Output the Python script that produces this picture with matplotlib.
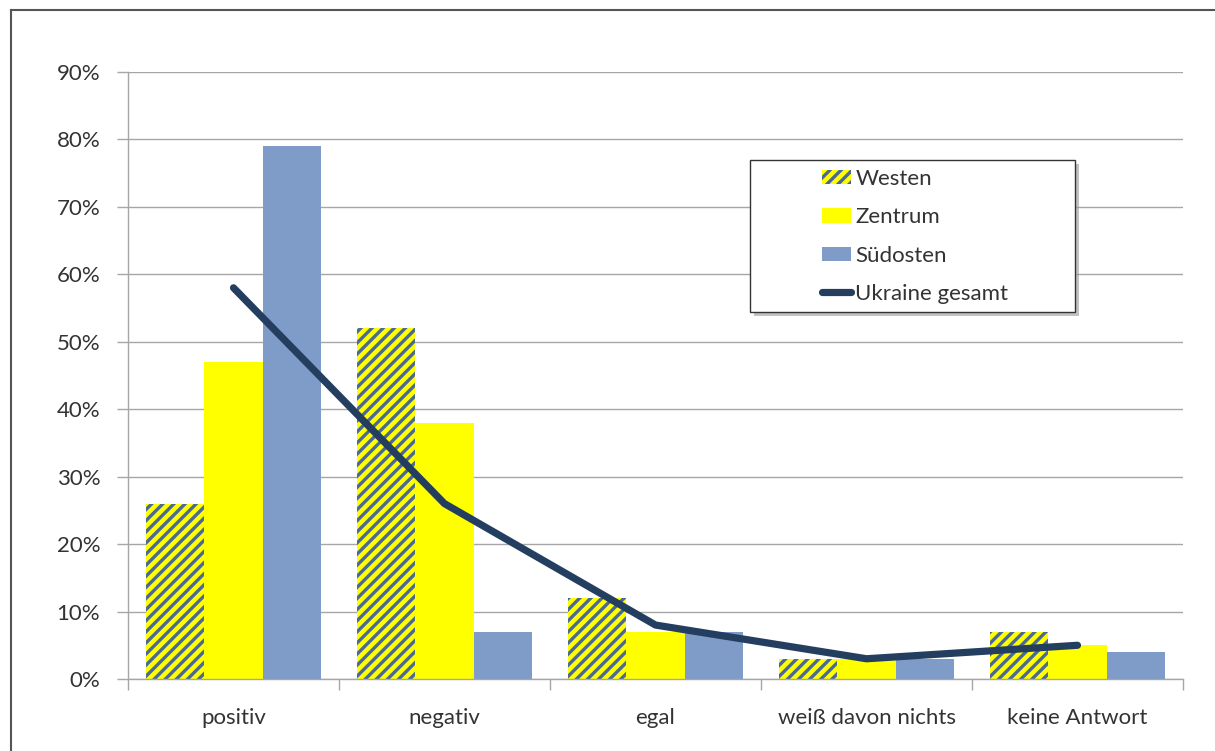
import matplotlib
matplotlib.use("Agg")
import matplotlib.pyplot as plt
import numpy as np
from matplotlib.patches import Patch, Rectangle
from matplotlib.lines import Line2D
from matplotlib.ticker import FuncFormatter

categories = ["positiv", "negativ", "egal", "weiß davon nichts", "keine Antwort"]
westen = [26, 52, 12, 3, 7]
zentrum = [47, 38, 7, 3, 5]
suedosten = [79, 7, 7, 3, 4]
ukraine = [58, 26, 8, 3, 5]
series_names = ["Westen", "Zentrum", "Südosten", "Ukraine gesamt"]

YELLOW = "#ffff00"
BLUE = "#7f9cc8"
STRIPE = "#4a6898"
LINE = "#243e60"
TEXT = "#333333"
GRID = "#a6a6a6"

plt.rcParams["font.family"] = ["Lato", "DejaVu Sans"]
plt.rcParams["hatch.linewidth"] = 2.4
plt.rcParams["hatch.color"] = STRIPE

W, H = 1215, 751
fig = plt.figure(figsize=(W / 100, H / 100), dpi=100)
ax = fig.add_axes([128 / W, 1 - 679 / H, (1183 - 128) / W, (679 - 72) / H])

x = np.arange(len(categories))
w = 0.277
ax.bar(x - w, np.array(westen) / 100, w, color=YELLOW, hatch="///", edgecolor=STRIPE, linewidth=0, zorder=2)
ax.bar(x, np.array(zentrum) / 100, w, color=YELLOW, linewidth=0, zorder=2)
ax.bar(x + w, np.array(suedosten) / 100, w, color=BLUE, linewidth=0, zorder=2)
ax.plot(x, np.array(ukraine) / 100, color=LINE, lw=5.2, solid_capstyle="round", solid_joinstyle="round", zorder=3)

ax.set_xlim(-0.5, len(categories) - 0.5)
ax.set_ylim(0, 0.9)
ax.set_yticks(np.arange(0, 0.91, 0.1))
ax.yaxis.set_major_formatter(FuncFormatter(lambda v, p: f"{v * 100:.0f}%"))
ax.grid(axis="y", color=GRID, lw=1.0, zorder=0)
ax.set_axisbelow(True)

ax.set_xticks(x)
ax.set_xticklabels(categories)
ax.set_xticks(np.arange(-0.5, len(categories), 1.0), minor=True)
ax.tick_params(axis="x", which="major", length=0, pad=21, labelsize=16, labelcolor=TEXT)
ax.tick_params(axis="x", which="minor", length=8, width=1, color=GRID, direction="out")
ax.tick_params(axis="y", length=8, width=1, color=GRID, direction="out", pad=12, labelsize=16, labelcolor=TEXT)

for s in ["top", "right"]:
    ax.spines[s].set_visible(False)
for s in ["left", "bottom"]:
    ax.spines[s].set_color(GRID)
    ax.spines[s].set_linewidth(1.0)

# legend box with drop shadow
bx, by, bw, bh = 750, 160, 325, 152
fig.add_artist(Rectangle(((bx + 4) / W, 1 - (by + bh + 4) / H), bw / W, bh / H,
                         transform=fig.transFigure, facecolor="#9a9a9a", edgecolor="none",
                         alpha=0.6, zorder=3))
fig.add_artist(Rectangle((bx / W, 1 - (by + bh) / H), bw / W, bh / H,
                         transform=fig.transFigure, facecolor="white", edgecolor="#333333",
                         linewidth=1.0, zorder=4))

handles = [
    Patch(facecolor=YELLOW, hatch="///", edgecolor=STRIPE, linewidth=0),
    Patch(facecolor=YELLOW, linewidth=0),
    Patch(facecolor=BLUE, linewidth=0),
    Line2D([0], [0], color=LINE, lw=5.2, solid_capstyle="round"),
]
leg = fig.legend(handles, series_names, loc="center left",
                 bbox_to_anchor=(822 / W, 1 - 236.5 / H), bbox_transform=fig.transFigure,
                 frameon=False, fontsize=16, borderpad=0, borderaxespad=0,
                 labelspacing=0.82, handlelength=1.3, handleheight=0.6, handletextpad=0.2)
leg.set_zorder(5)
for t in leg.get_texts():
    t.set_color(TEXT)

# outer frame of the chart area
fig.add_artist(Line2D([11 / W, 11 / W], [0, 1 - 10 / H], color="#555555", lw=1.5, transform=fig.transFigure))
fig.add_artist(Line2D([11 / W, 1], [1 - 10 / H, 1 - 10 / H], color="#555555", lw=1.5, transform=fig.transFigure))

fig.savefig("out.png", dpi=100)
